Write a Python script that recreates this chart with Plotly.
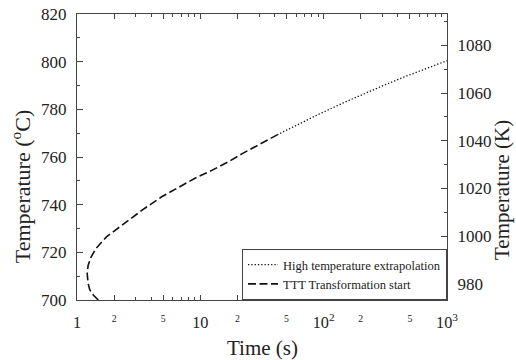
import plotly.graph_objects as go

# TTT transformation start (dashed) and high-temperature extrapolation (dotted)
dash_time = [1.49, 1.36, 1.27, 1.23, 1.21, 1.23, 1.30, 1.42, 1.74, 2.2, 2.61, 3.5, 4.86,
             6.5, 9.06, 12.5, 16.9, 21.7, 28.0, 35.6, 42.0]
dash_temp = [700, 702, 704.2, 707, 711, 714.5, 718.0, 721.5, 726.6, 730.6, 733.6, 738.3, 743.3,
             747.0, 751.1, 754.5, 758.0, 761.3, 764.4, 767.1, 769.3]

dot_time = [42.0, 60, 93.5, 150, 230, 325, 450, 600, 800, 1000]
dot_temp = [769.3, 773.4, 778.2, 783.1, 787.4, 790.6, 793.6, 796.1, 798.5, 800.4]

KELVIN = 273.15
FONT = "Liberation Serif, Times New Roman, serif"
INK = "#222222"
AX = "#444444"

fig = go.Figure()
fig.add_trace(go.Scatter(x=dot_time, y=dot_temp, mode="lines",
                         name="High temperature extrapolation",
                         line=dict(color="#111111", width=1.3, dash="1.3px,2px")))
fig.add_trace(go.Scatter(x=dash_time, y=dash_temp, mode="lines",
                         name="TTT Transformation start",
                         line=dict(color="#111111", width=1.6, dash="8px,3.5px")))
# same curve in Kelvin on the secondary axis (invisible, just anchors the axis)
fig.add_trace(go.Scatter(x=dot_time, y=[t + KELVIN for t in dot_temp], yaxis="y2",
                         mode="lines", line=dict(color="rgba(0,0,0,0)", width=0),
                         showlegend=False, hoverinfo="skip"))

axis_common = dict(showline=True, linecolor=AX, linewidth=1.3,
                   ticks="inside", tickcolor=AX, showgrid=False, zeroline=False,
                   tickfont=dict(family=FONT, size=17, color=INK))

fig.update_layout(
    width=516, height=360,
    margin=dict(l=77, r=69, t=14, b=60, autoexpand=False),
    paper_bgcolor="white", plot_bgcolor="white",
    font=dict(family=FONT, color=INK),
    showlegend=True,
    xaxis=dict(type="log", range=[0, 3], dtick="D2", exponentformat="power",
               ticklen=5, mirror="ticks", ticklabelstandoff=8,
               minor=dict(ticks="inside", ticklen=3, dtick="D1", tickcolor=AX),
               **{**axis_common, "tickfont": dict(family=FONT, size=13, color=INK)}),
    yaxis=dict(range=[700, 820], dtick=20, ticklen=6, ticklabelstandoff=6,
               minor=dict(ticks="inside", ticklen=3, dtick=10, tickcolor=AX),
               **axis_common),
    yaxis2=dict(range=[700 + KELVIN, 820 + KELVIN], dtick=20, tick0=980,
                overlaying="y", side="right", ticklen=6, ticklabelstandoff=6,
                minor=dict(ticks="inside", ticklen=3, dtick=10, tickcolor=AX),
                **axis_common),
    legend=dict(x=1, y=0, xanchor="right", yanchor="bottom",
                bgcolor="white", bordercolor=AX, borderwidth=1,
                font=dict(family=FONT, size=12.5, color=INK),
                tracegroupgap=0, itemwidth=30),
    annotations=[
        dict(text="Time (s)", xref="paper", yref="paper", x=0.5, y=-0.168,
             xanchor="center", yanchor="middle", showarrow=False,
             font=dict(family=FONT, size=21, color=INK)),
        dict(text="Temperature (<sup>o</sup>C)", xref="paper", yref="paper",
             x=-0.151, y=0.395, textangle=-90, xanchor="center", yanchor="middle",
             showarrow=False, font=dict(family=FONT, size=22, color=INK)),
        dict(text="Temperature (K)", xref="paper", yref="paper",
             x=1.149, y=0.385, textangle=-90, xanchor="center", yanchor="middle",
             showarrow=False, font=dict(family=FONT, size=21, color=INK)),
    ],
)

fig.write_html("out.html")
